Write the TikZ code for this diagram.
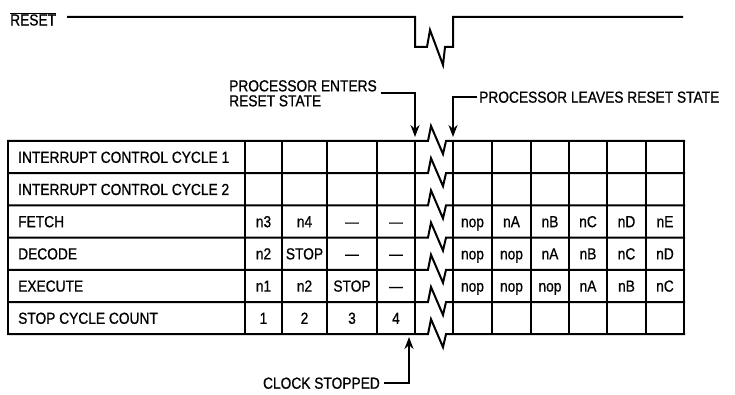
\documentclass[tikz,border=0pt]{standalone}
\usepackage{fontspec}
\setmainfont[FakeStretch=0.86, FakeBold=0.8]{Liberation Sans}
\usetikzlibrary{arrows.meta}

\begin{document}
\begin{tikzpicture}[
    x=1pt, y=-1pt,
    every node/.style={font=\fontsize{16}{15}\selectfont, inner sep=0pt},
    grid/.style={line width=2pt, line cap=rect},
    pointer/.style={line width=2pt, -{Stealth[length=12pt, width=9pt]}},
    cell/.style={anchor=center, text height=11.4pt, text depth=0pt},
    rowlabel/.style={anchor=west, text height=11.4pt, text depth=0pt},
    callout/.style={text height=11.4pt, text depth=0pt}
]
\useasboundingbox (0,0) rectangle (735,395);

% reset signal, broken in the middle
\node[anchor=west] (resetlbl) at (10,19) {$\overline{\hbox{RESET}}$};
\draw[grid] (68,17) -- (415,17) -- (415,47) -- (427,47) -- (430,30) -- (443,65)
    -- (445,47) -- (453,47) -- (453,17) -- (682,17);

% table rules -- every row line zigzags in the gap
\foreach \k [evaluate=\k as \y using 141+32.2*\k] in {0,...,6}
  \draw[grid] (8,\y) -- (428,\y) -- ++(3,-15) -- ++(12,28) -- ++(3,-13) -- (684,\y);
\foreach \x in {8,245,282,327,377,415,453,492,531,569,607,646,684}
  \draw[grid] (\x,141) -- (\x,334.2);

% row names
\foreach \t [count=\r, evaluate=\r as \y using 141+32.2*\r-16.1] in
    {INTERRUPT CONTROL CYCLE 1, INTERRUPT CONTROL CYCLE 2, FETCH, DECODE, EXECUTE, STOP CYCLE COUNT}
  \node[rowlabel] (row-\r) at (18,\y) {\t};

% cell entries
\def\colmid{{263.5,304.5,352,396,472.5,511.5,550,588,626.5,665}}
\foreach \r/\cells in {3/{n3,n4,—,—,nop,nA,nB,nC,nD,nE},
                       4/{n2,STOP,—,—,nop,nop,nA,nB,nC,nD},
                       5/{n1,n2,STOP,—,nop,nop,nop,nA,nB,nC},
                       6/{1,2,3,4}}
  \foreach \t [count=\c] in \cells
    \node[cell] (cell-\r-\c) at ({\colmid[\c-1]}, {141+32.2*\r-16.1}) {\t};

% callouts
\coordinate (entertip) at (415,137);
\coordinate (leavetip) at (453,137);
\coordinate (clocktip) at (409,337);
\node[anchor=north west, align=left] (enters) at (229,80) {PROCESSOR ENTERS\\RESET STATE};
\node[callout, anchor=west] (leaves) at (479,97) {PROCESSOR LEAVES RESET STATE};
\node[callout, anchor=east] (clock) at (380,383) {CLOCK STOPPED};
\draw[pointer] ([xshift=4pt]enters.east) -| (entertip);
\draw[pointer] ([xshift=-2pt]leaves.west) -| (leavetip);
\draw[pointer] ([xshift=4pt]clock.east) -| (clocktip);
\end{tikzpicture}
\end{document}
